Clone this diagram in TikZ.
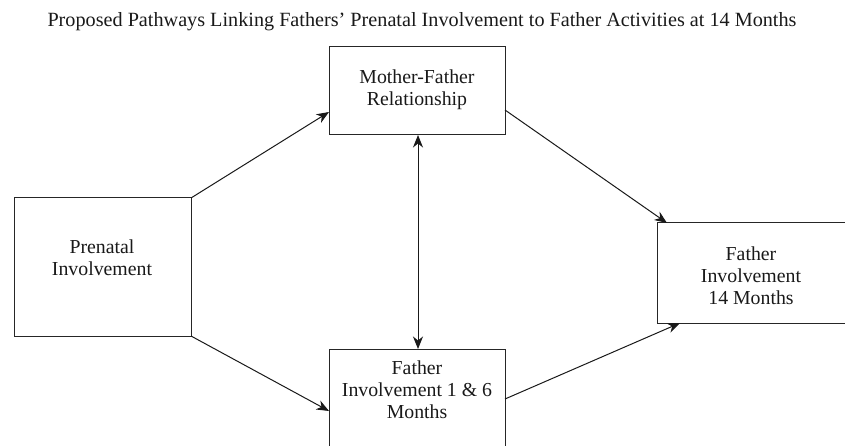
\documentclass[tikz,border=0pt]{standalone}
\usepackage{fontspec}
\setmainfont{Liberation Serif}
\usetikzlibrary{arrows.meta,calc}
\begin{document}
\begin{tikzpicture}[x=1pt,y=-1pt,
  box/.style={draw=black!85, line width=1pt, inner sep=0pt, outer sep=0pt, anchor=north west},
  lbl/.style={align=center, inner sep=0pt, font=\fontsize{19.8}{22}\selectfont, text=black!90},
  tip/.style={Stealth[length=12.5pt,width=10pt,inset=4pt]},
  arr/.style={-{Stealth[length=12.5pt,width=10pt,inset=4pt]}, line width=1pt, draw=black!90},
  arrb/.style={{Stealth[length=12.5pt,width=10pt,inset=4pt]}-{Stealth[length=12.5pt,width=10pt,inset=4pt]}, line width=1pt, draw=black!90}]
\useasboundingbox (0,0) rectangle (845,446);
\node[lbl, font=\fontsize{20.2}{22}\selectfont] (title) at (422,22) {Proposed Pathways Linking Fathers’ Prenatal Involvement to Father Activities at 14 Months};
% boxes
\node[box, minimum width=176pt, minimum height=88pt] (mf) at (329,47) {};
\node[lbl] (mft) at (417,90) {Mother-Father\\Relationship};
\node[box, minimum width=177pt, minimum height=138pt] (pre) at (14,198) {};
\node[lbl] (pret) at (102,258) {Prenatal\\Involvement};
\node[box, minimum width=192pt, minimum height=100pt] (m14) at (657,223) {};
\node[lbl] (m14t) at (751,276) {Father\\Involvement\\14 Months};
\node[box, minimum width=176pt, minimum height=110pt] (b16) at (329,349) {};
\node[lbl] (b16t) at (417,390) {Father\\Involvement 1 \& 6\\Months};
% connectors
\draw[arr] (pre.north east) -- ($(mf.north west)+(0,65)$);
\draw[arr] (pre.south east) -- ($(b16.north west)+(0,62)$);
\draw[arr] ($(mf.north east)+(0,63)$) -- ($(m14.north west)+(10,0)$);
\draw[arr] ($(b16.north east)+(0,50)$) -- ($(m14.south west)+(23,0)$);
\draw[arrb] ($(mf.south)+(1,0)$) -- ($(b16.north)+(1,0)$);
\end{tikzpicture}
\end{document}
